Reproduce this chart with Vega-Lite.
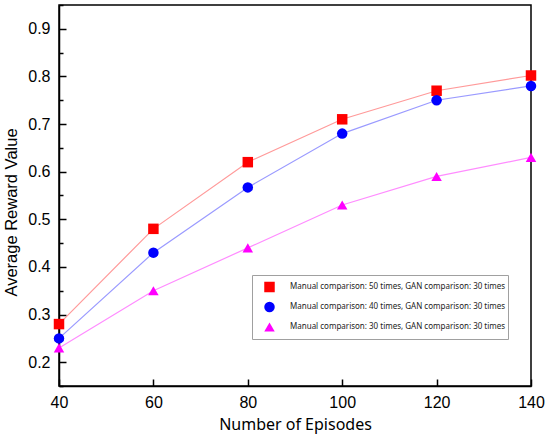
{
  "$schema": "https://vega.github.io/schema/vega-lite/v6.json",
  "width": 472,
  "height": 381,
  "autosize": "none",
  "padding": {"left": 59, "top": 5, "right": 19, "bottom": 53},
  "background": "white",
  "data": {
    "values": [
      {"episodes": 40, "value": 0.28, "series": "Manual comparison: 50 times, GAN comparison: 30 times"},
      {"episodes": 60, "value": 0.48, "series": "Manual comparison: 50 times, GAN comparison: 30 times"},
      {"episodes": 80, "value": 0.62, "series": "Manual comparison: 50 times, GAN comparison: 30 times"},
      {"episodes": 100, "value": 0.71, "series": "Manual comparison: 50 times, GAN comparison: 30 times"},
      {"episodes": 120, "value": 0.77, "series": "Manual comparison: 50 times, GAN comparison: 30 times"},
      {"episodes": 140, "value": 0.802, "series": "Manual comparison: 50 times, GAN comparison: 30 times"},
      {"episodes": 40, "value": 0.25, "series": "Manual comparison: 40 times, GAN comparison: 30 times"},
      {"episodes": 60, "value": 0.43, "series": "Manual comparison: 40 times, GAN comparison: 30 times"},
      {"episodes": 80, "value": 0.567, "series": "Manual comparison: 40 times, GAN comparison: 30 times"},
      {"episodes": 100, "value": 0.68, "series": "Manual comparison: 40 times, GAN comparison: 30 times"},
      {"episodes": 120, "value": 0.75, "series": "Manual comparison: 40 times, GAN comparison: 30 times"},
      {"episodes": 140, "value": 0.78, "series": "Manual comparison: 40 times, GAN comparison: 30 times"},
      {"episodes": 40, "value": 0.23, "series": "Manual comparison: 30 times, GAN comparison: 30 times"},
      {"episodes": 60, "value": 0.35, "series": "Manual comparison: 30 times, GAN comparison: 30 times"},
      {"episodes": 80, "value": 0.44, "series": "Manual comparison: 30 times, GAN comparison: 30 times"},
      {"episodes": 100, "value": 0.53, "series": "Manual comparison: 30 times, GAN comparison: 30 times"},
      {"episodes": 120, "value": 0.59, "series": "Manual comparison: 30 times, GAN comparison: 30 times"},
      {"episodes": 140, "value": 0.63, "series": "Manual comparison: 30 times, GAN comparison: 30 times"}
    ]
  },
  "encoding": {
    "x": {
      "field": "episodes",
      "type": "quantitative",
      "scale": {"domain": [40, 140], "nice": false, "zero": false},
      "axis": {
        "title": "Number of Episodes",
        "values": [40, 60, 80, 100, 120, 140],
        "labelFlush": false,
        "labelFont": "Liberation Sans",
        "labelFontSize": 16,
        "tickSize": -7,
        "labelPadding": 15,
        "titleFont": "Noto Sans",
        "titleFontSize": 16,
        "titlePadding": 6
      }
    },
    "y": {
      "field": "value",
      "type": "quantitative",
      "scale": {"domain": [0.15, 0.95], "nice": false, "zero": false},
      "axis": {
        "title": "Average Reward Value",
        "values": [0.15, 0.2, 0.25, 0.3, 0.35, 0.4, 0.45, 0.5, 0.55, 0.6, 0.65, 0.7, 0.75, 0.8, 0.85, 0.9, 0.95],
        "labelExpr": "round(datum.value * 100) % 10 == 0 ? format(datum.value, '.1f') : ''",
        "labelFont": "Liberation Sans",
        "labelFontSize": 16,
        "tickSize": {"condition": {"test": "round(datum.value * 100) % 10 == 0", "value": -7}, "value": -4},
        "labelPadding": 16,
        "titleFont": "Liberation Sans",
        "titleFontSize": 16.5,
        "titlePadding": 8,
        "titleY": 207
      }
    }
  },
  "layer": [
    {
      "mark": {"type": "line", "strokeWidth": 1.2},
      "encoding": {
        "detail": {"field": "series", "type": "nominal"},
        "stroke": {
          "condition": [
            {"test": "indexof(datum.series, '50 times') >= 0", "value": "#ff9a9a"},
            {"test": "indexof(datum.series, '40 times') >= 0", "value": "#9a9aff"}
          ],
          "value": "#ff8cff"
        }
      }
    },
    {
      "mark": {"type": "point", "filled": true, "opacity": 1, "size": 110},
      "encoding": {
        "shape": {
          "field": "series",
          "type": "nominal",
          "scale": {
            "domain": [
              "Manual comparison: 50 times, GAN comparison: 30 times",
              "Manual comparison: 40 times, GAN comparison: 30 times",
              "Manual comparison: 30 times, GAN comparison: 30 times"
            ],
            "range": ["square", "circle", "triangle-up"]
          }
        },
        "color": {
          "field": "series",
          "type": "nominal",
          "scale": {
            "domain": [
              "Manual comparison: 50 times, GAN comparison: 30 times",
              "Manual comparison: 40 times, GAN comparison: 30 times",
              "Manual comparison: 30 times, GAN comparison: 30 times"
            ],
            "range": ["#ff0000", "#0000ff", "#ff00ff"]
          },
          "legend": {
            "title": null,
            "orient": "none",
            "legendX": 193,
            "legendY": 270,
            "padding": 2,
            "strokeColor": "#a0a0a0",
            "symbolSize": 110,
            "symbolStrokeWidth": 0,
            "symbolOffset": 10,
            "clipHeight": 20,
            "rowPadding": 0,
            "labelFont": "Noto Sans",
            "labelFontSize": 8,
            "labelColor": "#222222",
            "labelLimit": 300,
            "labelOffset": 15
          }
        }
      }
    }
  ],
  "config": {
    "view": {"stroke": "black", "strokeWidth": 1.5},
    "axis": {
      "grid": false,
      "domainColor": "black",
      "domainWidth": 1.5,
      "tickColor": "black",
      "tickWidth": 1.5,
      "labelColor": "black",
      "titleColor": "black",
      "titleFontWeight": "normal"
    }
  }
}
